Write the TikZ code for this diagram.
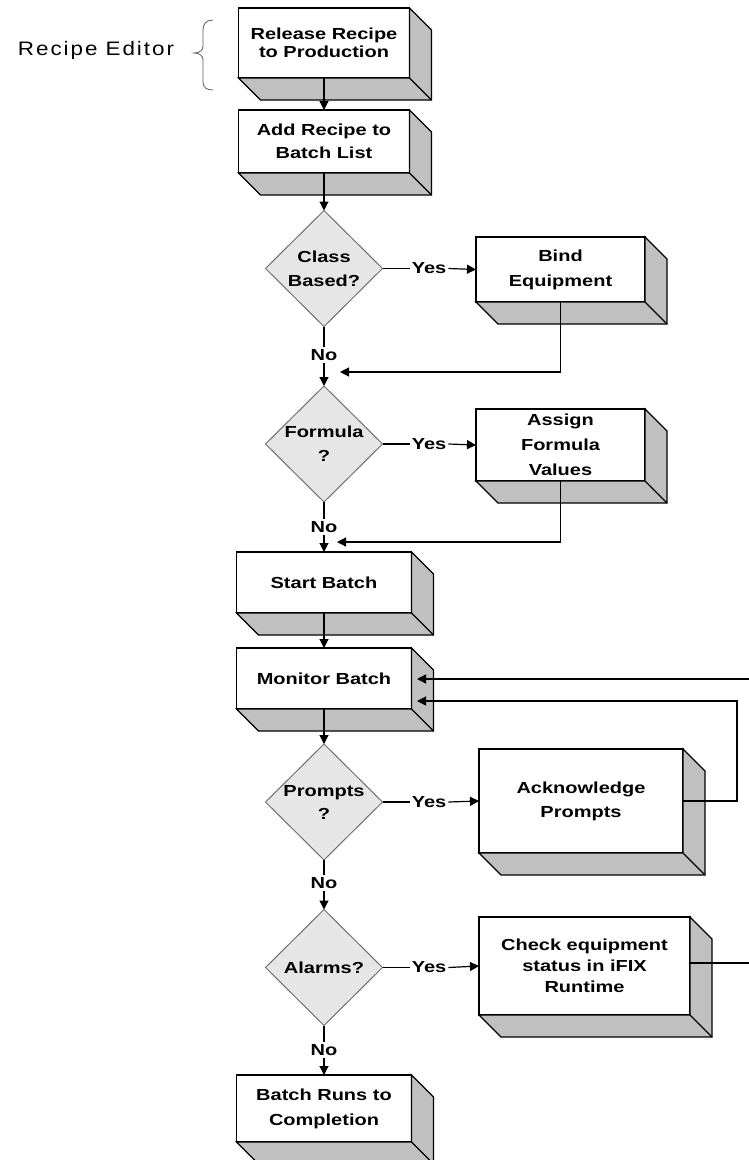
\documentclass[tikz,border=0pt]{standalone}
\usepackage{fontspec}
\newfontfamily\boxfont{Liberation Sans}[FakeStretch=1.25]
\newfontfamily\edfont{Liberation Sans}[FakeStretch=1.15, LetterSpace=10]
\usetikzlibrary{shapes.geometric, arrows.meta}
\definecolor{facegray}{HTML}{C0C0C0}
\definecolor{diafill}{HTML}{E6E6E6}
\definecolor{diagray}{HTML}{707070}
\definecolor{bracegray}{HTML}{606060}
\tikzset{
  lsk/.style={font=\boxfont\bfseries\fontsize{16}{#1}\selectfont},
  boxnode/.style={draw=black, fill=white, line width=1.1pt, rectangle, outer sep=0pt,
    inner sep=0pt, align=center, lsk=24},
  dec/.style={shape=diamond, draw=diagray, fill=diafill, line width=1pt,
    minimum width=117pt, minimum height=116pt, inner sep=0pt, outer sep=0pt},
  dectext/.style={align=center, inner sep=0pt, lsk=24},
  lbl/.style={inner sep=2pt, lsk=18},
  conn/.style={draw=black, line width=1.2pt},
  arr/.style={conn, -{Triangle[length=9pt,width=9pt]}},
  face/.style={fill=facegray, draw=black, line width=1.1pt, line join=miter},
}
\newcommand{\boxdepth}[1]{%
  \filldraw[face] (#1.south west) -- ([shift={(22,22)}]#1.south west)
    -- ([shift={(22,22)}]#1.south east) -- ([shift={(22,22)}]#1.north east)
    -- (#1.north east) -- (#1.south east) -- cycle;
  \draw[face] (#1.south east) -- ([shift={(22,22)}]#1.south east);
}
\begin{document}
\begin{tikzpicture}[x=1pt, y=-1pt]
\useasboundingbox (0,0) rectangle (749,1160);
\fill[white] (0,0) rectangle (749,1160);
\clip (0,0) rectangle (749,1160);

% Recipe Editor label and brace
\node[font=\edfont\fontsize{19.5}{22}\selectfont, inner sep=0pt] (ed) at (96,50) {Recipe Editor};
\draw[bracegray, line width=0.8pt] (213,20) .. controls (206,20) and (203,24) .. (203,30)
  -- (203,46) .. controls (203,50) and (200,53) .. (194,53)
  .. controls (200,53) and (203,56) .. (203,60) -- (203,82)
  .. controls (203,87) and (206,90) .. (213,90);

% main column
\node[boxnode, minimum width=171pt, minimum height=70pt, lsk=18] (r1) at (324,43) {Release Recipe\\to Production};
\node[boxnode, minimum width=171pt, minimum height=63pt, lsk=23] (r2) at (324,141.5) {Add Recipe to\\Batch List};
\node[dec] (d1) at (324,268.5) {};
\node[dectext] (d1t) at (d1.center) {Class\\Based?};
\node[boxnode, minimum width=169pt, minimum height=65pt, lsk=25] (b1) at (560.5,269.5) {Bind\\Equipment};
\node[dec] (d2) at (324,444) {};
\node[dectext] (d2t) at (d2.center) {Formula\\?};
\node[boxnode, minimum width=169pt, minimum height=72pt, lsk=25] (b2) at (560.5,445) {Assign\\Formula\\Values};
\node[boxnode, minimum width=175pt, minimum height=61pt] (s1) at (324,582.5) {Start Batch};
\node[boxnode, minimum width=175pt, minimum height=61pt] (mb) at (324,678.5) {Monitor Batch};
\node[dec] (d3) at (324,802) {};
\node[dectext, lsk=23] (d3t) at (d3.center) {Prompts\\?};
\node[boxnode, minimum width=204pt, minimum height=104pt] (ak) at (581,801) {Acknowledge\\Prompts};
\node[dec] (d4) at (324,967.5) {};
\node[dectext] (d4t) at (d4.center) {Alarms?};
\node[boxnode, minimum width=211pt, minimum height=98pt, lsk=21] (ck) at (584.5,966) {Check equipment\\status in iFIX\\Runtime};
\node[boxnode, minimum width=175pt, minimum height=67pt, lsk=25] (en) at (324,1108.5) {Batch Runs to\\Completion};

\boxdepth{r1}
\boxdepth{r2}
\boxdepth{b1}
\boxdepth{b2}
\boxdepth{s1}
\boxdepth{mb}
\boxdepth{ak}
\boxdepth{ck}
\boxdepth{en}

% labels
\node[lbl] (y1) at (429,268.5) {Yes};
\node[lbl] (y2) at (429,444) {Yes};
\node[lbl] (y3) at (429,802) {Yes};
\node[lbl] (y4) at (429,967.5) {Yes};
\node[lbl] (n1) at (324,355) {No};
\node[lbl] (n2) at (324,527) {No};
\node[lbl] (n3) at (324,883) {No};
\node[lbl] (n4) at (324,1050) {No};

\coordinate (m1) at (340,372);
\coordinate (m2) at (337,542);
\coordinate (mi1) at (417,679);
\coordinate (mi2) at (417,701);

% connectors
\draw[arr] (r1.south) -- (r2.north);
\draw[arr] (r2.south) -- (d1.north);
\draw[conn] (d1.east) -- (y1.west);
\draw[arr] (y1.east) -- (b1.west);
\draw[conn] (d1.south) -- (n1.north);
\draw[arr] (n1.south) -- (d2.north);
\draw[arr] (b1.south) |- (m1);

\draw[conn] (d2.east) -- (y2.west);
\draw[arr] (y2.east) -- (b2.west);
\draw[conn] (d2.south) -- (n2.north);
\draw[arr] (n2.south) -- (s1.north);
\draw[arr] (b2.south) |- (m2);

\draw[arr] (s1.south) -- (mb.north);
\draw[arr] (mb.south) -- (d3.north);

\draw[conn] (d3.east) -- (y3.west);
\draw[arr] (y3.east) -- (ak.west);
\draw[conn] (d3.south) -- (n3.north);
\draw[arr] (n3.south) -- (d4.north);
\draw[arr] (ak.east) -- ++(54,0) |- (mi2);

\draw[conn] (d4.east) -- (y4.west);
\draw[arr] (y4.east) -- (ck.west);
\draw[conn] (d4.south) -- (n4.north);
\draw[arr] (n4.south) -- (en.north);
\draw[arr] ([yshift=3pt]ck.east) -- ++(90,0) |- (mi1);
\end{tikzpicture}
\end{document}
